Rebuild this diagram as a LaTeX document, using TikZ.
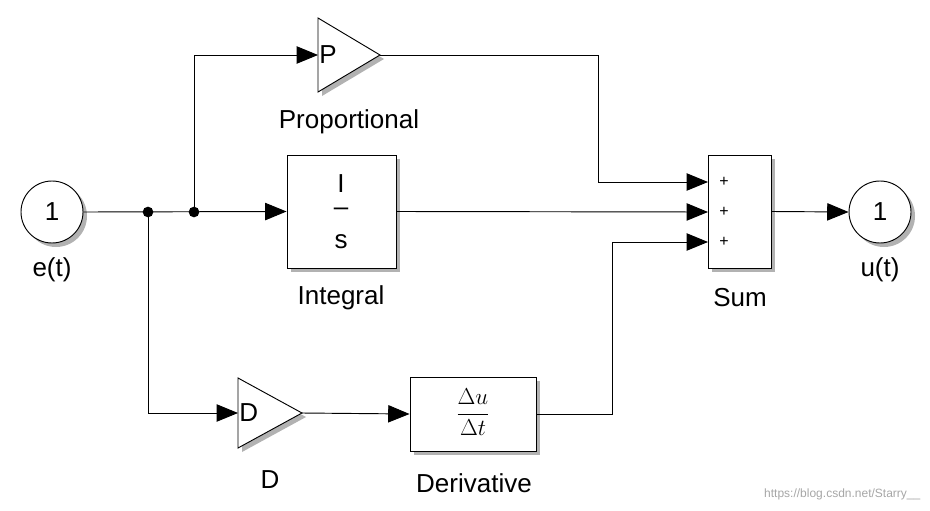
\documentclass[tikz,border=0pt]{standalone}
\usepackage{fontspec}
\setmainfont{Liberation Sans}
\usetikzlibrary{arrows.meta,shapes.geometric,shadows}
\begin{document}
\begin{tikzpicture}[x=0.75pt,y=-0.75pt,
  lbl/.style={font=\fontsize{19.5}{22}\selectfont,inner sep=0pt},
  blk/.style={draw,line width=0.7pt,fill=white,drop shadow={shadow xshift=3pt,shadow yshift=-3pt,fill=gray!60,opacity=1},inner sep=0pt},
  port/.style={blk,circle,minimum size=46.5pt,font=\fontsize{19.5}{22}\selectfont},
  wire/.style={line width=0.7pt,-{Triangle[length=16pt,width=13pt]}},
  dot/.style={circle,fill,inner sep=0pt,minimum size=8pt}]
\useasboundingbox (0,0) rectangle (930,510);
\node[port] (e) at (52,212) {1};
\node[lbl] at (52,270) {e(t)};
\node[port] (u) at (880,212) {1};
\node[lbl] at (880,270) {u(t)};
\node[blk,minimum width=81.75pt,minimum height=84.75pt] (I) at (341.5,211.5) {};
\node[lbl] at (341,184) {I};
\node[lbl] at (341,212) {--};
\node[lbl] at (341,242) {s};
\node[lbl] at (341,298) {Integral};
\node[blk,minimum width=47.25pt,minimum height=84.75pt] (S) at (739.5,211.5) {};
\node[font=\large] at (724,182) {+};
\node[font=\large] at (724,212) {+};
\node[font=\large] at (724,242) {+};
\node[lbl] at (740,298) {Sum};
\node[blk,minimum width=94.5pt,minimum height=55.5pt] (Dv) at (473,414) {};
\node[font=\fontsize{17}{20}\selectfont] at (473,412) {$\displaystyle\frac{\Delta u}{\Delta t}$};
\node[lbl] at (474,483) {Derivative};
\draw[blk] (318,18) -- (380,55) -- (318,92) -- cycle;
\node[lbl,anchor=west] (P) at (319,55) {P};
\node[lbl] at (349,122) {Proportional};
\draw[blk] (238,378) -- (302,413) -- (238,448) -- cycle;
\node[lbl,anchor=west] (D) at (239,413) {D};
\node[lbl] at (270,480) {D};
\coordinate (j1) at (148,212);
\coordinate (j2) at (194,212);
\coordinate (Pin) at (318,55);
\coordinate (Pout) at (380,55);
\coordinate (Din) at (238,413);
\coordinate (Dout) at (302,413);
\coordinate (s1) at (708,182);
\coordinate (s2) at (708,212);
\coordinate (s3) at (708,242);
\node[dot] at (j1) {};
\node[dot] at (j2) {};
\draw[wire] (e.east) -- (I.west);
\draw[wire] (j2) |- (Pin);
\draw[wire] (j1) |- (Din);
\draw[wire] (Dout) -- (Dv.west);
\draw[wire] (Pout) -| (598,182) -- (s1);
\draw[wire] (I.east) -- (s2);
\draw[wire] (Dv.east) -| (612,242) -- (s3);
\draw[wire] (S.east) -- (u.west);
\node[font=\small,text=gray!70,anchor=east] at (925,494) {https://blog.csdn.net/Starry\_\_};
\end{tikzpicture}
\end{document}
